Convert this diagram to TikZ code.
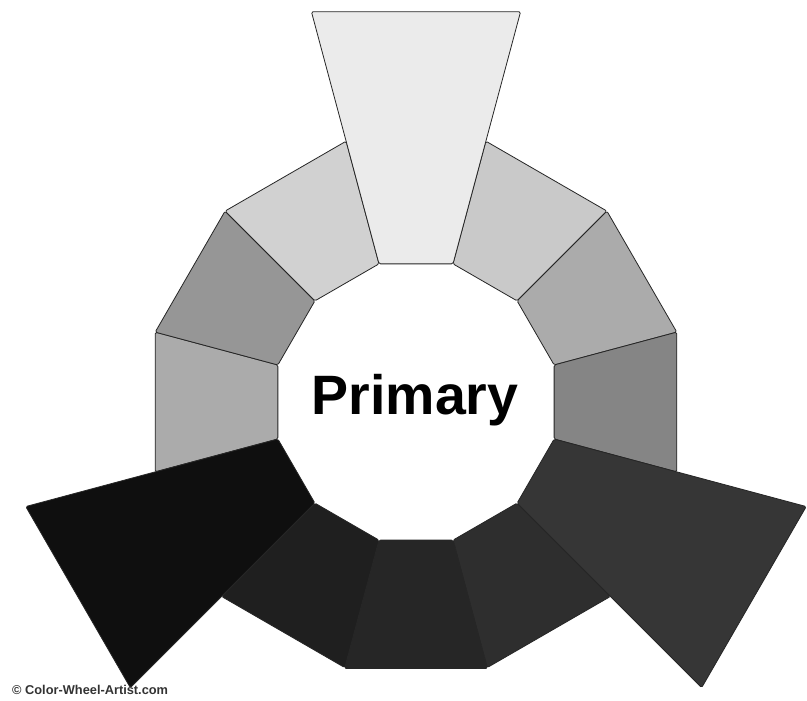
\documentclass[tikz,border=0pt]{standalone}
\usepackage{fontspec}
\setmainfont{Liberation Sans}
\begin{document}
\begin{tikzpicture}[x=1pt,y=1pt,
  seg/.style={draw=black!85, line width=0.8pt, line join=round, rounded corners=1.5pt},
  titletext/.style={font=\bfseries\fontsize{55.5}{60}\selectfont, text=black, inner sep=0pt},
  credittext/.style={font=\bfseries\fontsize{12.8}{14}\selectfont, text=black!80, inner sep=0pt}]
\useasboundingbox (0,0) rectangle (807,701);
\fill[white] (0,0) rectangle (807,701);
\begin{scope}[shift={(416,299)}]
  % ring segments (secondary / tertiary)
  \foreach \c/\p/\r in {60/21/270, 30/33/270, 0/48/270, -60/82/275, -90/85/276, -120/88/275, 180/33/270, 150/41/270, 120/18/270}{
    \draw[seg, fill=black!\p] (\c-15:143pt) -- (\c+15:143pt) -- (\c+15:\r pt) -- (\c-15:\r pt) -- cycle;
  }
  % primary segments, extended outward
  \foreach \c/\p in {90/8, -30/79, 210/94}{
    \draw[seg, fill=black!\p] (\c-15:143pt) -- (\c+15:143pt) -- (\c+15:404pt) -- (\c-15:404pt) -- cycle;
  }
  \node[titletext, anchor=base] (title) at (-1,-13) {Primary};
\end{scope}
\node[credittext, anchor=base west] (credit) at (12,6) {© Color-Wheel-Artist.com};
\end{tikzpicture}
\end{document}
